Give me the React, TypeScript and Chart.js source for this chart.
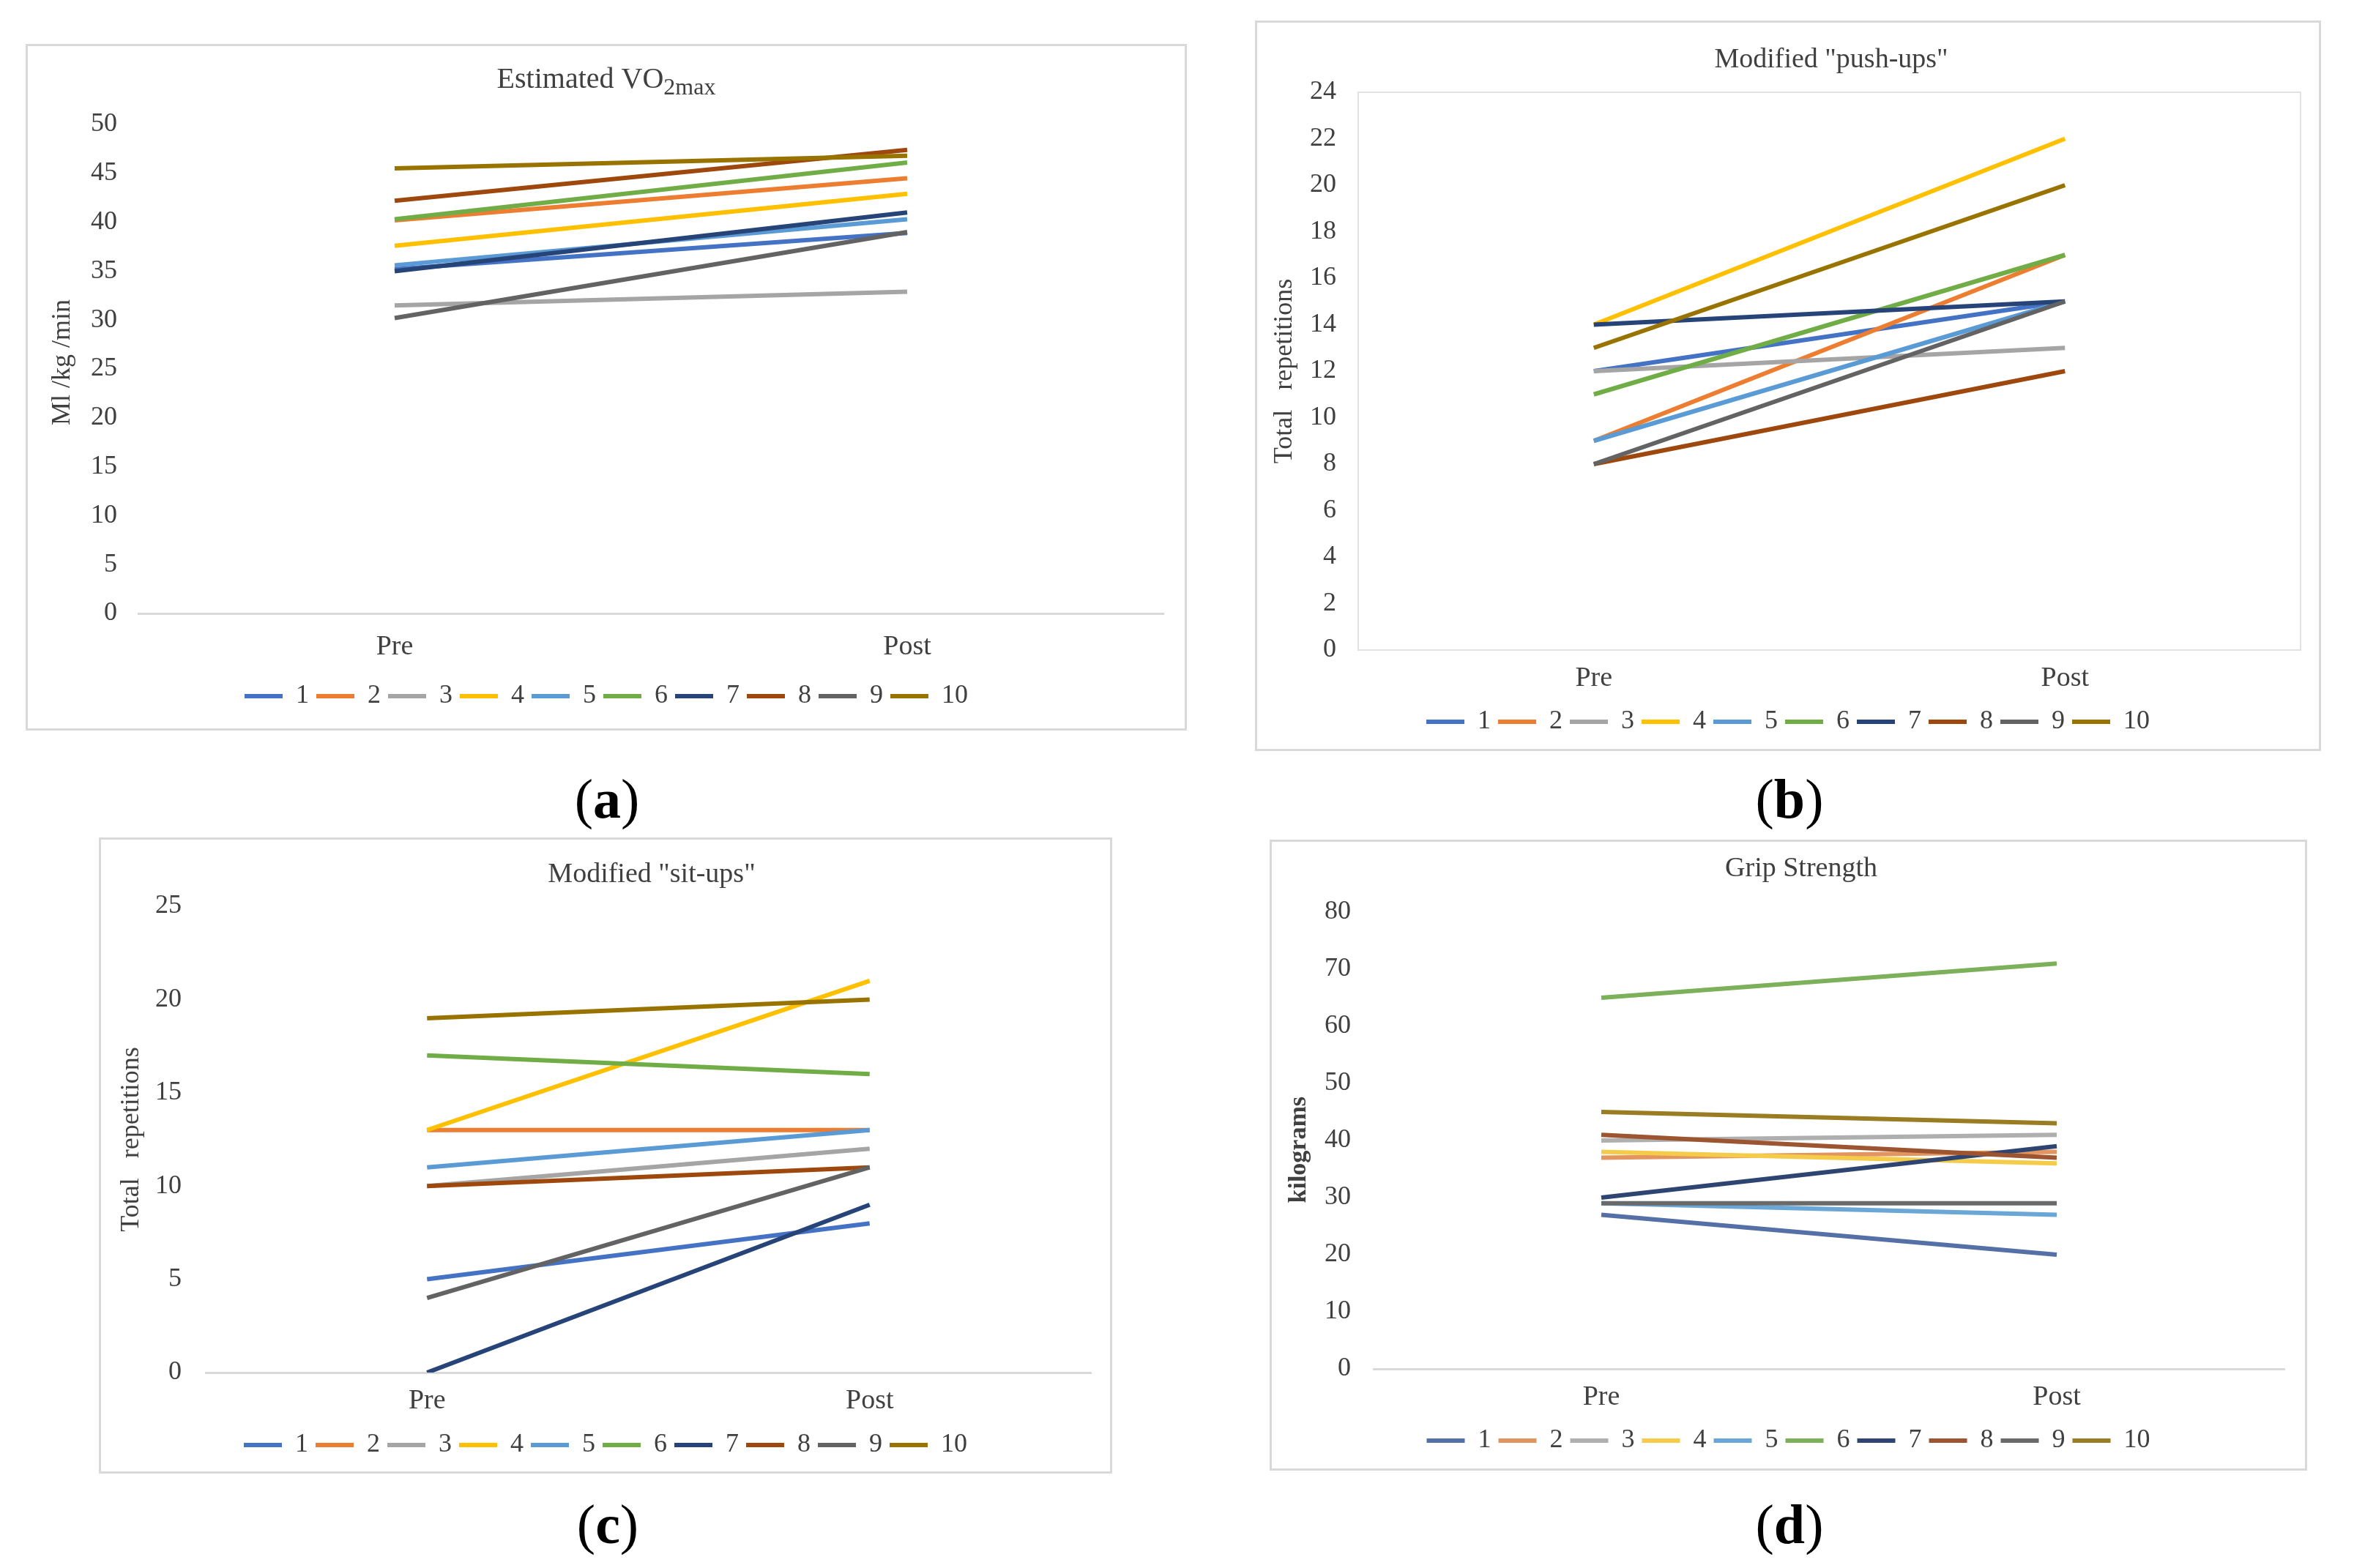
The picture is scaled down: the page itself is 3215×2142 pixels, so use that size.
import React, { useEffect, useRef } from "react";
import { Chart, registerables } from "chart.js";

Chart.register(...registerables);
Chart.defaults.font.family = "'Liberation Serif', 'Times New Roman', serif";

// ---------- data ----------
const categories = ["Pre", "Post"];
const subjects = ["1", "2", "3", "4", "5", "6", "7", "8", "9", "10"];

const officeColors = ["#4472C4", "#ED7D31", "#A5A5A5", "#FFC000", "#5B9BD5", "#70AD47", "#264478", "#9E480E", "#636363", "#997300"];
const gripColors = ["#5570A6", "#E39560", "#AFAFAF", "#F5CB4A", "#6AA6D6", "#7DB05A", "#2E4572", "#9C5530", "#6A6A6A", "#9A7D22"];

const vo2Pre = [35.2, 40.2, 31.5, 37.6, 35.6, 40.3, 35.0, 42.2, 30.2, 45.5];
const vo2Post = [38.9, 44.5, 32.9, 42.9, 40.3, 46.1, 41.0, 47.4, 39.0, 46.8];
const vo2Ticks = { min: 0, max: 50, step: 5 };

const pushPre = [12, 9, 12, 14, 9, 11, 14, 8, 8, 13];
const pushPost = [15, 17, 13, 22, 15, 17, 15, 12, 15, 20];
const pushTicks = { min: 0, max: 24, step: 2 };

const sitPre = [5, 13, 10, 13, 11, 17, 0, 10, 4, 19];
const sitPost = [8, 13, 12, 21, 13, 16, 9, 11, 11, 20];
const sitTicks = { min: 0, max: 25, step: 5 };

const gripPre = [27, 37, 40, 38, 29, 65, 30, 41, 29, 45];
const gripPost = [20, 38, 41, 36, 27, 71, 39, 37, 29, 43];
const gripTicks = { min: 0, max: 80, step: 10 };

const TEXT = "#404040";
const FRAME = "#d9d9d9";
const LINE_W = 6;

// ---------- plugins ----------
const panelTitle = {
  id: "panelTitle",
  afterDraw(chart: any, _args: any, opts: any) {
    if (!opts || !opts.parts) return;
    const ctx = chart.ctx;
    ctx.save();
    ctx.fillStyle = opts.color || TEXT;
    ctx.textBaseline = "middle";
    ctx.textAlign = "left";
    const fam = "'Liberation Serif', 'Times New Roman', serif";
    const mainFont = `${opts.size}px ${fam}`;
    const subFont = `${Math.round(opts.size * 0.8)}px ${fam}`;
    let total = 0;
    for (const p of opts.parts) {
      ctx.font = p.sub ? subFont : mainFont;
      total += ctx.measureText(p.text).width;
    }
    let x = opts.x - total / 2;
    for (const p of opts.parts) {
      ctx.font = p.sub ? subFont : mainFont;
      ctx.fillText(p.text, x, opts.y + (p.sub ? opts.size * 0.3 : 0));
      x += ctx.measureText(p.text).width;
    }
    ctx.restore();
  },
};

const plotFrame = {
  id: "plotFrame",
  beforeDatasetsDraw(chart: any, _args: any, opts: any) {
    if (!opts || !opts.show) return;
    const { ctx, chartArea } = chart;
    ctx.save();
    ctx.strokeStyle = opts.color || FRAME;
    ctx.lineWidth = opts.width || 2;
    ctx.strokeRect(chartArea.left, chartArea.top, chartArea.right - chartArea.left, chartArea.bottom - chartArea.top);
    ctx.restore();
  },
};

type Panel = {
  box: { x: number; y: number; w: number; h: number };
  pre: number[];
  post: number[];
  colors: string[];
  ticks: { min: number; max: number; step: number };
  title: { parts: { text: string; sub?: boolean }[]; x: number; y: number; size: number };
  yTitle: string;
  yTitleBold: boolean;
  yTitleSize: number;
  yTitlePad: number;
  side: number;
  yWidth: number;
  yTickPad: number;
  top: number;
  bottom: number;
  xHeight: number;
  xTickPad: number;
  framed: boolean;
};

function LinePanel({ p }: { p: Panel }) {
  const ref = useRef<HTMLCanvasElement>(null);
  const W = p.box.w - 6;
  const H = p.box.h - 6;
  useEffect(() => {
    if (!ref.current) return;
    const datasets = subjects.map((s, i) => ({
      label: s,
      data: [p.pre[i], p.post[i]],
      borderColor: p.colors[i],
      backgroundColor: p.colors[i],
      borderWidth: LINE_W,
      pointRadius: 0,
      pointHoverRadius: 0,
      tension: 0,
      fill: false,
      order: subjects.length - i,
    }));
    const chart = new Chart(ref.current, {
      type: "line",
      data: { labels: categories, datasets },
      plugins: [panelTitle, plotFrame],
      options: {
        animation: false,
        responsive: false,
        devicePixelRatio: 1,
        layout: { padding: { left: p.side, right: p.side, top: p.top, bottom: p.bottom } },
        scales: {
          x: {
            type: "category",
            offset: true,
            grid: { display: false, drawTicks: false },
            border: { display: !p.framed, color: FRAME, width: 3 },
            ticks: { padding: p.xTickPad, color: TEXT, font: { size: 38 } },
            afterFit: (s: any) => {
              s.height = p.xHeight;
            },
          },
          y: {
            min: p.ticks.min,
            max: p.ticks.max,
            grid: { display: false, drawTicks: false },
            border: { display: false },
            ticks: { stepSize: p.ticks.step, padding: p.yTickPad, color: TEXT, font: { size: 36 } },
            title: {
              display: true,
              text: p.yTitle,
              color: TEXT,
              padding: { top: p.yTitlePad, bottom: 0 },
              font: { size: p.yTitleSize, weight: p.yTitleBold ? "bold" : "normal", lineHeight: 1 },
            },
            afterFit: (s: any) => {
              s.width = p.yWidth;
            },
          },
        },
        plugins: {
          title: { display: false },
          tooltip: { enabled: false },
          legend: {
            display: true,
            position: "bottom",
            labels: {
              usePointStyle: true,
              pointStyle: "line",
              pointStyleWidth: 52,
              padding: 10,
              color: TEXT,
              font: { size: 36 },
              sort: (a: any, b: any) => a.datasetIndex - b.datasetIndex,
            },
          },
          panelTitle: { ...p.title, color: TEXT },
          plotFrame: { show: p.framed, color: "#e2e2e2", width: 2 },
        } as any,
      } as any,
    });
    return () => chart.destroy();
  }, []);
  return (
    <div
      style={{
        position: "absolute",
        left: p.box.x,
        top: p.box.y,
        width: p.box.w,
        height: p.box.h,
        boxSizing: "border-box",
        border: `3px solid ${FRAME}`,
        background: "#fff",
      }}
    >
      <canvas ref={ref} width={W} height={H} style={{ display: "block", width: W, height: H }} />
    </div>
  );
}

const panels: Panel[] = [
  {
    box: { x: 35, y: 60, w: 1586, h: 938 },
    pre: vo2Pre,
    post: vo2Post,
    colors: officeColors,
    ticks: vo2Ticks,
    title: { parts: [{ text: "Estimated VO" }, { text: "2max", sub: true }], x: 790, y: 46, size: 40 },
    yTitle: "  Ml /kg /min",
    yTitleBold: false,
    yTitleSize: 36,
    yTitlePad: 1,
    side: 29,
    yWidth: 122,
    yTickPad: 29,
    top: 107,
    bottom: 16,
    xHeight: 85,
    xTickPad: 23,
    framed: false,
  },
  {
    box: { x: 1714, y: 28, w: 1456, h: 998 },
    pre: pushPre,
    post: pushPost,
    colors: officeColors,
    ticks: pushTicks,
    title: { parts: [{ text: 'Modified "push-ups"' }], x: 784, y: 51, size: 38 },
    yTitle: "Total   repetitions",
    yTitleBold: false,
    yTitleSize: 36,
    yTitlePad: -5,
    side: 25,
    yWidth: 113,
    yTickPad: 30,
    top: 95,
    bottom: 9,
    xHeight: 70,
    xTickPad: 16,
    framed: true,
  },
  {
    box: { x: 135, y: 1144, w: 1384, h: 869 },
    pre: sitPre,
    post: sitPost,
    colors: officeColors,
    ticks: sitTicks,
    title: { parts: [{ text: 'Modified "sit-ups"' }], x: 752, y: 48, size: 38 },
    yTitle: "Total   repetitions",
    yTitleBold: false,
    yTitleSize: 36,
    yTitlePad: -2,
    side: 26,
    yWidth: 117,
    yTickPad: 33,
    top: 91,
    bottom: 8,
    xHeight: 71,
    xTickPad: 16,
    framed: false,
  },
  {
    box: { x: 1734, y: 1147, w: 1417, h: 862 },
    pre: gripPre,
    post: gripPost,
    colors: gripColors,
    ticks: gripTicks,
    title: { parts: [{ text: "Grip Strength" }], x: 723, y: 37, size: 38 },
    yTitle: "kilograms   ",
    yTitleBold: true,
    yTitleSize: 34,
    yTitlePad: -8,
    side: 28,
    yWidth: 111,
    yTickPad: 31,
    top: 96,
    bottom: 10,
    xHeight: 70,
    xTickPad: 16,
    framed: false,
  },
];

const captions = [
  { letter: "a", x: 829, y: 1097 },
  { letter: "b", x: 2444, y: 1097 },
  { letter: "c", x: 830, y: 2088 },
  { letter: "d", x: 2444, y: 2088 },
];

function Caption({ letter, x, y }: { letter: string; x: number; y: number }) {
  const size = 76;
  return (
    <div
      style={{
        position: "absolute",
        left: x - 100,
        top: y - Math.round(size * 0.58),
        width: 200,
        textAlign: "center",
        fontFamily: "'Liberation Serif', 'Times New Roman', serif",
        fontSize: size,
        lineHeight: 1,
        color: "#000",
      }}
    >
      (<b>{letter}</b>)
    </div>
  );
}

export default function App() {
  return (
    <div>
      {panels.map((p, i) => (
        <LinePanel key={i} p={p} />
      ))}
      {captions.map((c) => (
        <Caption key={c.letter} {...c} />
      ))}
    </div>
  );
}
